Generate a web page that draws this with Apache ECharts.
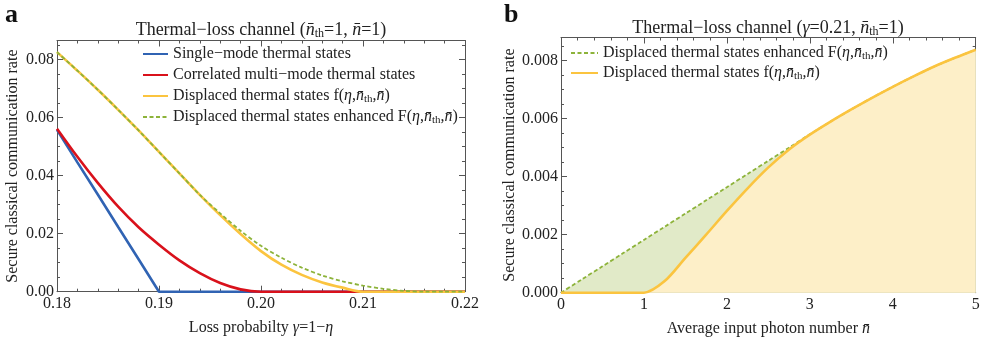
<!DOCTYPE html>
<html>
<head>
<meta charset="utf-8">
<script src="https://cdn.jsdelivr.net/npm/echarts@6/dist/echarts.min.js"></script>
<style>
  html, body { margin: 0; background: #fff; }
  #chart { width: 981px; height: 338px; }
</style>
</head>
<body>
<div id="chart"></div>
<script>
// panel a: loss probability on x
const gammaX = [0.180, 0.182, 0.184, 0.186, 0.188, 0.190, 0.192, 0.194, 0.196, 0.198, 0.200,
  0.202, 0.204, 0.206, 0.208, 0.210, 0.212, 0.214, 0.216, 0.218, 0.220]
const singleMode = [0.0558, 0.0446, 0.0335, 0.0223, 0.0112, 0, 0, 0, 0, 0, 0,
  0, 0, 0, 0, 0, 0, 0, 0, 0, 0]
const multiMode = [0.0562, 0.0465, 0.0375, 0.0293, 0.0222, 0.0162, 0.0108, 0.0064, 0.0030, 0.0008, 0,
  0, 0, 0, 0, 0, 0, 0, 0, 0, 0]
const displacedA = [0.0826, 0.0762, 0.0696, 0.0627, 0.0556, 0.0482, 0.0408, 0.0334, 0.0264, 0.0199, 0.0140,
  0.0093, 0.0058, 0.0032, 0.0014, 0, 0, 0, 0, 0, 0]
const enhancedA = [0.0826, 0.0762, 0.0696, 0.0627, 0.0556, 0.0482, 0.0408, 0.0334, 0.0270, 0.0210, 0.0158,
  0.0117, 0.0083, 0.0056, 0.0036, 0.0021, 0.0010, 0.0003, 0, 0, 0]

// panel b: average photon number on x
const photonN = [0, 0.25, 0.5, 0.75, 1, 1.25, 1.5, 1.75, 2, 2.25, 2.5,
  2.75, 3, 3.25, 3.5, 3.75, 4, 4.25, 4.5, 4.75, 5]
const enhancedB = [0, 0.000455, 0.00091, 0.001365, 0.00182, 0.002275, 0.00273, 0.003185, 0.00364, 0.004095, 0.00455,
  0.00500, 0.00546, 0.0059, 0.00632, 0.00672, 0.0071, 0.00746, 0.0078, 0.0081, 0.00838]
const displacedB = [0, 0, 0, 0, 0, 0.0004, 0.0012, 0.0020, 0.00282, 0.0036, 0.00432,
  0.00494, 0.00545, 0.0059, 0.00632, 0.00672, 0.0071, 0.00746, 0.0078, 0.0081, 0.00838]

const xTicksA = { min: 0.18, max: 0.22, interval: 0.01 }
const yTicksA = { min: 0, max: 0.0866, interval: 0.02 }
const xTicksB = { min: 0, max: 5, interval: 1 }
const yTicksB = { min: 0, max: 0.0088, interval: 0.002 }

const serif = '"Liberation Serif", "DejaVu Serif", serif'
const NB = 'n\u0304'
const rich = (size) => ({
  i: { fontFamily: serif, fontStyle: 'italic', fontSize: size, color: '#222' },
  s: { fontFamily: serif, fontSize: Math.round(size * 0.68), lineHeight: 8, verticalAlign: 'bottom', color: '#222' },
})
const zrich = (size) => ({
  i: { fontFamily: serif, fontStyle: 'italic', fontSize: size, fill: '#222' },
  s: { fontFamily: serif, fontSize: Math.round(size * 0.68), lineHeight: 8, verticalAlign: 'bottom', fill: '#222' },
})

const legendLabels = {
  single: 'Single\u2212mode thermal states',
  multi: 'Correlated multi\u2212mode thermal states',
  fA: `Displaced thermal states f({i|\u03b7},{i|${NB}}{s|th},{i|${NB}})`,
  FA: `Displaced thermal states enhanced F({i|\u03b7},{i|${NB}}{s|th},{i|${NB}})`,
  FB: `Displaced thermal states enhanced F({i|\u03b7},{i|${NB}}{s|th},{i|${NB}})`,
  fB: `Displaced thermal states f({i|\u03b7},{i|${NB}}{s|th},{i|${NB}})`,
}

const zip = (xs, ys) => xs.map((x, i) => [x, ys[i]])
const axisColor = '#555'

const frameX = (grid, ticks, minorSplit, shown, fmt, name, gap) => ({
  type: 'value', gridIndex: grid, position: shown ? 'bottom' : 'top', ...ticks,
  axisLine: { show: true, onZero: false, lineStyle: { color: axisColor, width: 1 } },
  axisTick: { show: true, inside: true, length: 6, lineStyle: { color: axisColor } },
  minorTick: { show: true, splitNumber: minorSplit, length: 3, lineStyle: { color: axisColor } },
  splitLine: { show: false },
  axisLabel: { show: shown, formatter: fmt, fontFamily: serif, fontSize: 16, color: '#222', margin: 4 },
  name: shown ? name : '', nameLocation: 'middle', nameGap: gap,
  nameTextStyle: { fontFamily: serif, fontSize: 16, color: '#222', rich: rich(16) },
})
const frameY = (grid, ticks, minorSplit, shown, fmt, name, gap) => ({
  type: 'value', gridIndex: grid, position: shown ? 'left' : 'right', ...ticks,
  axisLine: { show: true, onZero: false, lineStyle: { color: axisColor, width: 1 } },
  axisTick: { show: true, inside: true, length: 6, lineStyle: { color: axisColor } },
  minorTick: { show: true, splitNumber: minorSplit, length: 3, lineStyle: { color: axisColor } },
  splitLine: { show: false },
  axisLabel: { show: shown, formatter: fmt, fontFamily: serif, fontSize: 16, color: '#222', margin: 3, showMaxLabel: false },
  name: shown ? name : '', nameLocation: 'middle', nameGap: gap,
  nameTextStyle: { fontFamily: serif, fontSize: 16, color: '#222' },
})

const lineSeries = (name, x, y, data, color, width, extra) => ({
  name, type: 'line', xAxisIndex: x, yAxisIndex: y, data, symbol: 'none', showSymbol: false,
  clip: false, color, lineStyle: { color, width }, itemStyle: { color },
  emphasis: { disabled: true }, ...extra,
})

const legendBase = {
  orient: 'vertical', itemHeight: 14, itemGap: 3, padding: 0, selectedMode: false,
  itemStyle: { opacity: 0 },
  formatter: (n) => legendLabels[n],
  textStyle: { fontFamily: serif, fontSize: 16, color: '#222', lineHeight: 18, rich: rich(16) },
}

const chart = echarts.init(document.getElementById('chart'))
chart.setOption({
  animation: false,
  grid: [
    { left: 57, top: 40.5, width: 408, height: 251.2, outerBoundsMode: 'none' },
    { left: 561, top: 37.5, width: 414.7, height: 255.2, outerBoundsMode: 'none' },
  ],
  xAxis: [
    frameX(0, xTicksA, 5, true, (v) => v.toFixed(2), `Loss probabilty {i|\u03b3}=1\u2212{i|\u03b7}`, 28),
    frameX(1, xTicksB, 5, true, (v) => String(v), `Average input photon number {i|${NB}}`, 28),
    frameX(0, xTicksA, 5, false),
    frameX(1, xTicksB, 5, false),
  ],
  yAxis: [
    frameY(0, yTicksA, 4, true, (v) => v.toFixed(2), 'Secure classical communication rate', 36),
    frameY(1, yTicksB, 4, true, (v) => v.toFixed(3), 'Secure classical communication rate', 38),
    frameY(0, yTicksA, 4, false),
    frameY(1, yTicksB, 4, false),
  ],
  legend: [
    { ...legendBase, data: ['single', 'multi', 'fA', 'FA'], left: 142, top: 45, itemWidth: 25 },
    { ...legendBase, data: ['FB', 'fB'], left: 570, top: 44, itemWidth: 27, itemGap: 2 },
  ],
  graphic: [
    { type: 'text', left: 5, top: 2, style: { text: 'a', font: `bold 26px ${serif}`, fill: '#111' } },
    { type: 'text', left: 504, top: 2, style: { text: 'b', font: `bold 26px ${serif}`, fill: '#111' } },
    {
      type: 'text', x: 261, y: 30,
      style: {
        text: `Thermal\u2212loss channel ({i|${NB}}{s|th}=1, {i|${NB}}=1)`,
        fontFamily: serif, fontSize: 18, lineHeight: 20, fill: '#222',
        align: 'center', verticalAlign: 'middle', rich: zrich(18),
      },
    },
    {
      type: 'text', x: 768, y: 28,
      style: {
        text: `Thermal\u2212loss channel ({i|\u03b3}=0.21, {i|${NB}}{s|th}=1)`,
        fontFamily: serif, fontSize: 18, lineHeight: 20, fill: '#222',
        align: 'center', verticalAlign: 'middle', rich: zrich(18),
      },
    },
  ],
  series: [
    lineSeries('single', 0, 0, zip(gammaX, singleMode), '#3063b3', 2.6),
    lineSeries('multi', 0, 0, zip(gammaX, multiMode), '#d9111b', 2.6, { smooth: 0.3 }),
    lineSeries('fA', 0, 0, zip(gammaX, displacedA), '#fbc43f', 2.6, { smooth: 0.3 }),
    lineSeries('FA', 0, 0, zip(gammaX, enhancedA), '#8db33a', 1.8,
      { smooth: 0.3, lineStyle: { color: '#8db33a', width: 1.8, type: [4, 2.5] } }),
    lineSeries('FB', 1, 1, zip(photonN, enhancedB), '#8db33a', 1.8,
      { smooth: 0.3, lineStyle: { color: '#8db33a', width: 1.8, type: [4, 2.5] },
        areaStyle: { color: '#e1eac8', opacity: 1 } }),
    lineSeries('fB', 1, 1, zip(photonN, displacedB), '#fbc43f', 2.6,
      { smooth: 0.3, areaStyle: { color: '#fdefc8', opacity: 1 } }),
  ],
})
</script>
</body>
</html>
